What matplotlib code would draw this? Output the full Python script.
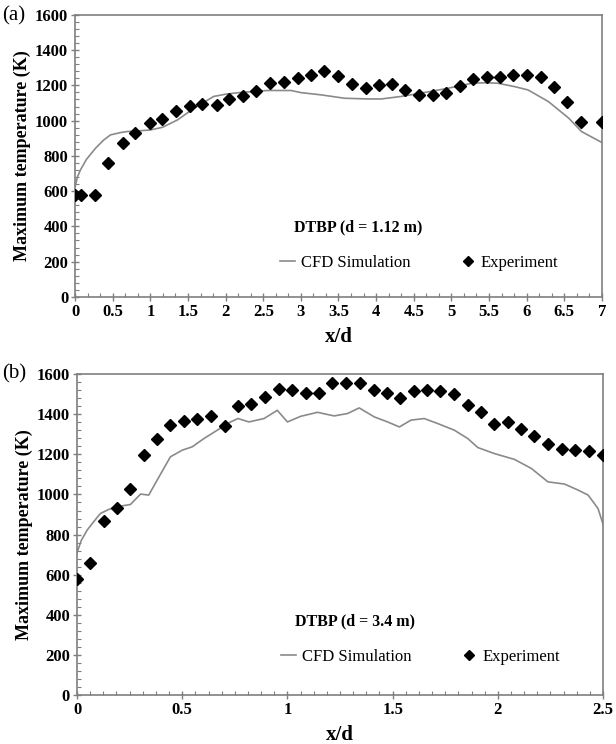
import numpy as np
import matplotlib
matplotlib.use('Agg')
import matplotlib.pyplot as plt
from matplotlib.lines import Line2D
from matplotlib.ticker import MultipleLocator

plt.rcParams['font.family'] = ['Liberation Serif', 'DejaVu Serif']

# --- panel (a): DTBP d = 1.12 m ---
exp_a_x = [0, 0.08, 0.27, 0.44, 0.63, 0.80, 0.99, 1.16, 1.34, 1.52,
           1.69, 1.88, 2.05, 2.23, 2.41, 2.59, 2.78, 2.96, 3.13, 3.31,
           3.50, 3.68, 3.86, 4.04, 4.21, 4.39, 4.57, 4.75, 4.93, 5.11,
           5.29, 5.47, 5.64, 5.82, 6.01, 6.19, 6.36, 6.54, 6.72, 7.0]
exp_a_y = [579, 579, 579, 758, 872, 932, 985, 1010, 1055, 1084,
           1095, 1089, 1121, 1137, 1169, 1212, 1220, 1244, 1260, 1284,
           1254, 1207, 1184, 1203, 1208, 1171, 1146, 1148, 1159, 1197,
           1235, 1246, 1250, 1260, 1260, 1250, 1193, 1103, 995, 995]
cfd_a_x = [0, 0.03, 0.07, 0.15, 0.27, 0.38, 0.47, 0.6, 0.69, 0.85,
           1.0, 1.16, 1.36, 1.58, 1.84, 2.0, 2.2, 2.56, 2.87, 3.0,
           3.27, 3.58, 3.89, 4.07, 4.33, 4.64, 4.96, 5.27, 5.45, 5.62,
           5.84, 6.02, 6.29, 6.56, 6.73, 7.0]
cfd_a_y = [626, 680, 720, 780, 843, 890, 919, 932, 938, 942,
           947, 962, 1004, 1070, 1137, 1150, 1160, 1171, 1171, 1159,
           1146, 1127, 1123, 1123, 1137, 1159, 1184, 1212, 1215, 1212,
           1193, 1174, 1108, 1014, 938, 876]

# --- panel (b): DTBP d = 3.4 m ---
exp_b_x = [0, 0.063, 0.127, 0.19, 0.254, 0.317, 0.381, 0.444, 0.508, 0.571,
           0.638, 0.702, 0.765, 0.829, 0.894, 0.96, 1.024, 1.087, 1.151, 1.214,
           1.278, 1.344, 1.41, 1.473, 1.536, 1.6, 1.663, 1.727, 1.79, 1.857,
           1.92, 1.984, 2.048, 2.11, 2.174, 2.238, 2.306, 2.368, 2.431, 2.5]
exp_b_y = [576, 656, 869, 934, 1027, 1196, 1276, 1349, 1369, 1376,
           1392, 1342, 1440, 1449, 1487, 1528, 1520, 1505, 1504, 1558,
           1558, 1558, 1523, 1507, 1479, 1517, 1523, 1517, 1499, 1445,
           1412, 1354, 1362, 1326, 1291, 1251, 1229, 1224, 1218, 1196]
cfd_b_x = [0, 0.02, 0.048, 0.08, 0.111, 0.15, 0.19, 0.254, 0.302, 0.341,
           0.381, 0.444, 0.5, 0.548, 0.603, 0.667, 0.73, 0.765, 0.817, 0.889,
           0.952, 1.0, 1.063, 1.143, 1.222, 1.286, 1.341, 1.413, 1.476, 1.532,
           1.587, 1.65, 1.714, 1.793, 1.857, 1.905, 1.984, 2.079, 2.159, 2.238,
           2.317, 2.381, 2.429, 2.476, 2.5]
cfd_b_y = [709, 770, 822, 865, 905, 925, 939, 950, 1002, 997,
           1072, 1188, 1221, 1238, 1279, 1321, 1362, 1379, 1362, 1379,
           1420, 1362, 1390, 1410, 1392, 1404, 1432, 1387, 1362, 1337,
           1371, 1379, 1354, 1321, 1279, 1234, 1204, 1175, 1130, 1063,
           1052, 1022, 997, 930, 852]

SZARY = '#8a8a8a'   # linia CFD
OS = '#7f7f7f'      # ramka i podziałki


def panel(ax, cx, cy, ex, ey, xmax, xminor, opis, y_opis, y_leg):
    ax.plot(cx, cy, color=SZARY, linewidth=1.2, zorder=2)
    ax.plot(ex, ey, linestyle='none', marker='D', markersize=6.3,
            color='black', zorder=3)
    ax.set_xlim(0, xmax)
    ax.set_ylim(0, 1600)
    ax.xaxis.set_major_locator(MultipleLocator(0.5))
    ax.xaxis.set_minor_locator(MultipleLocator(xminor))
    ax.yaxis.set_major_locator(MultipleLocator(200))
    ax.yaxis.set_minor_locator(MultipleLocator(40))
    ax.set_xticklabels([f'{v:g}' for v in ax.get_xticks()])
    for s in ax.spines.values():
        s.set_color(OS)
        s.set_linewidth(1.2)
    ax.tick_params(which='major', direction='inout', length=6, width=1,
                   color=OS, labelsize=12, pad=2)
    ax.tick_params(which='minor', direction='in', length=3, width=0.8,
                   color=OS)
    for t in ax.get_xticklabels() + ax.get_yticklabels():
        t.set_fontweight('bold')
    ax.set_ylabel('Maximum temperature (K)', fontsize=13,
                  fontweight='bold', labelpad=3)
    ax.set_xlabel('x/d', fontsize=15, fontweight='bold', labelpad=5)
    ax.text(0.415, y_opis, opis, transform=ax.transAxes,
            fontsize=11.5, fontweight='bold', va='center')
    uchwyty = [Line2D([], [], color=SZARY, linewidth=1.2),
               Line2D([], [], linestyle='none', marker='D', markersize=5,
                      color='black')]
    ax.legend(uchwyty, ['CFD Simulation', 'Experiment'], ncol=2,
              frameon=False, loc='center left',
              bbox_to_anchor=(0.36, y_leg), fontsize=12,
              handlelength=0.9, handletextpad=0.35, columnspacing=3.0)


fig = plt.figure(figsize=(6.16, 7.44), dpi=100)
ax_a = fig.add_axes([0.122, 0.601, 0.855, 0.379])
ax_b = fig.add_axes([0.125, 0.066, 0.854, 0.431])

panel(ax_a, cfd_a_x, cfd_a_y, exp_a_x, exp_a_y, 7, 1 / 6,
      'DTBP (d = 1.12 m)', 0.248, 0.12)
panel(ax_b, cfd_b_x, cfd_b_y, exp_b_x, exp_b_y, 2.5, 0.0625,
      'DTBP (d = 3.4 m)', 0.23, 0.118)

fig.text(0.003, 0.979, '(a)', fontsize=15, va='center')
fig.text(0.003, 0.497, '(b)', fontsize=15, va='center')

fig.savefig('out.png', dpi=100)
plt.close(fig)
